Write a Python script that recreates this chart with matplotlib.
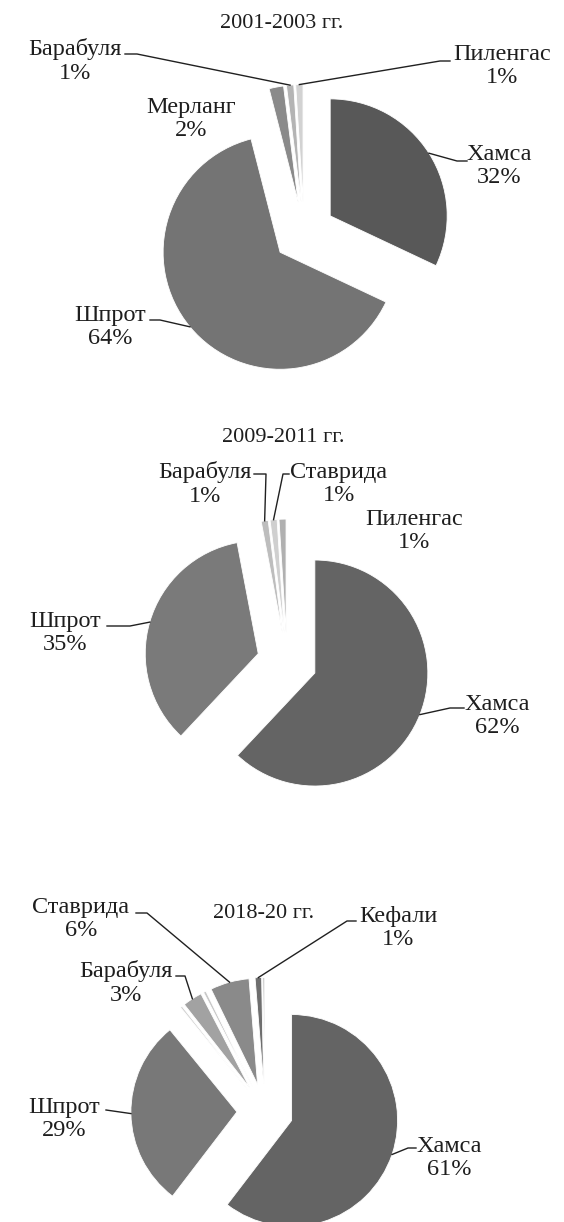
import matplotlib.pyplot as plt
import numpy as np

# доли вылова по периодам, %
labels_2001 = ['Хамса', 'Шпрот', 'Мерланг', 'Барабуля', 'Пиленгас']
share_2001 = [32, 64, 2, 1, 1]
colors_2001 = ['#585858', '#747474', '#8a8a8a', '#b4b4b4', '#d2d2d2']

labels_2009 = ['Хамса', 'Шпрот', 'Барабуля', 'Ставрида', 'Пиленгас']
share_2009 = [62, 35, 1, 1, 1]
colors_2009 = ['#646464', '#7a7a7a', '#bdbdbd', '#cfcfcf', '#b0b0b0']

# безымянные узкие сектора - прочие виды
labels_2018 = ['Хамса', 'Шпрот', '', 'Барабуля', '', 'Ставрида', 'Кефали', '']
share_2018 = [61, 29, 0.3, 3, 0.4, 6, 1, 0.3]
colors_2018 = ['#646464', '#787878', '#d0d0d0', '#a2a2a2', '#c8c8c8',
               '#8a8a8a', '#6e6e6e', '#c4c4c4']

W, H = 564, 1222
plt.rcParams['font.family'] = ['Liberation Serif', 'DejaVu Serif']

fig = plt.figure(figsize=(W / 100, H / 100), dpi=100)
ax = fig.add_axes([0, 0, 1, 1])


def arc_point(w):
    th = np.deg2rad((w.theta1 + w.theta2) / 2)
    return (w.center[0] + w.r * np.cos(th), w.center[1] + w.r * np.sin(th))


def draw_pie(labels, share, colors, cx, cy, r, title, tpos, layout):
    # explode в matplotlib задаётся в единицах данных (здесь - пикселях)
    wedges, _ = ax.pie(share, colors=colors, explode=[0.265 * r] * len(share),
                       radius=r, center=(cx, cy), startangle=-90,
                       counterclock=True,
                       wedgeprops=dict(edgecolor='white', linewidth=0.6))
    ax.text(tpos[0], tpos[1], title, ha='center', va='center',
            fontsize=16, color='#1e1e1e')
    for w, name, val in zip(wedges, labels, share):
        if name not in layout:
            continue
        tx, t1, path = layout[name]
        ax.text(tx, t1 + 13, f'{name}\n{val:g}%', ha='center', va='center',
                fontsize=17.5, linespacing=1.15, color='#1e1e1e')
        if path:
            pts = [arc_point(w)] + path
            ax.plot([p[0] for p in pts], [p[1] for p in pts],
                    color='#202020', lw=1.0, solid_joinstyle='round')


draw_pie(labels_2001, share_2001, colors_2001, 304, 232.5, 117,
         '2001-2003 гг.', (282, 24),
         {'Хамса': (499, 153, [(457, 161), (467, 161)]),
          'Шпрот': (110, 314, [(160, 320), (150, 320)]),
          'Мерланг': (191, 106, None),
          'Барабуля': (75, 48, [(137, 54), (125, 54)]),
          'Пиленгас': (502, 53, [(440, 61), (450, 61)])})

draw_pie(labels_2009, share_2009, colors_2009, 287, 662, 113,
         '2009-2011 гг.', (283, 438),
         {'Хамса': (497, 703, [(450, 708), (464, 708)]),
          'Шпрот': (65, 620, [(130, 626), (107, 626)]),
          'Барабуля': (205, 471, [(266, 474), (254, 474)]),
          'Ставрида': (339, 471, [(283, 474), (289, 474)]),
          'Пиленгас': (414, 518, None)})

draw_pie(labels_2018, share_2018, colors_2018, 265, 1111.5, 106,
         '2018-20 гг.', (264, 913),
         {'Хамса': (449, 1145, [(408, 1148), (416, 1148)]),
          'Шпрот': (64, 1106, [(106, 1110)]),
          'Барабуля': (126, 970, [(185, 976), (176, 976)]),
          'Ставрида': (81, 906, [(147, 913), (136, 913)]),
          'Кефали': (398, 915, [(347, 921), (356, 921)])})

ax.set_xlim(0, W)
ax.set_ylim(H, 0)
ax.set_aspect('equal')
ax.axis('off')

fig.savefig('out.png', dpi=100, facecolor='white')
